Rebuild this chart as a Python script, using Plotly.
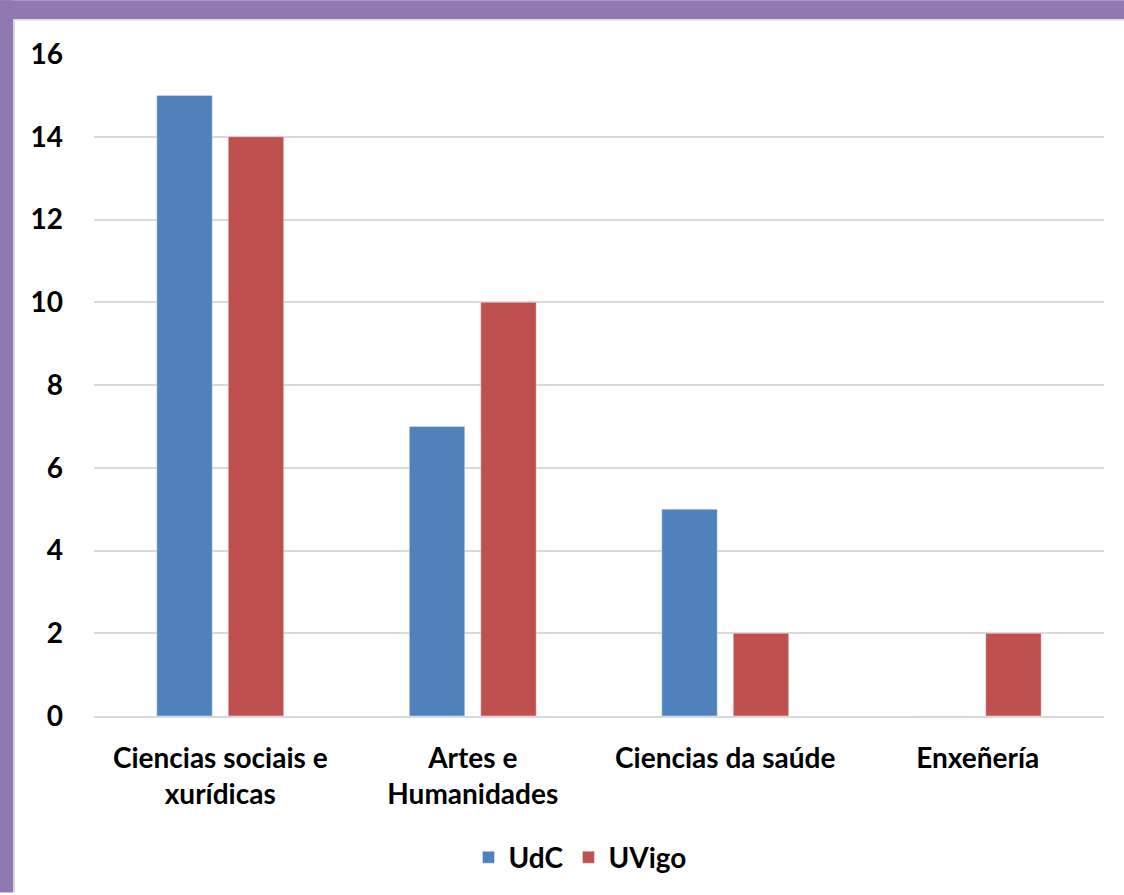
import plotly.graph_objects as go

categories = ["Ciencias sociais e<br>xurídicas", "Artes e<br>Humanidades", "Ciencias da saúde", "Enxeñería"]
udc_values = [15, 7, 5, 0]
uvigo_values = [14, 10, 2, 2]
y_ticks = [0, 2, 4, 6, 8, 10, 12, 14, 16]

W, H = 1124, 895
ML, MR, MT, MB = 94, 20, 54, 177
PW, PH = W - ML - MR, H - MT - MB

def px_x(p):
    return (p - ML) / PW

def px_y(p):
    return (H - MB - p) / PH

FONT = "Lato"
FS = 28
purple = "#9079B0"

fig = go.Figure()
fig.add_trace(go.Bar(x=categories, y=udc_values, name="UdC", marker_color="#4F81BD"))
fig.add_trace(go.Bar(x=categories, y=uvigo_values, name="UVigo", marker_color="#C0504D"))

fig.update_layout(
    width=W, height=H,
    margin=dict(l=ML, r=MR, t=MT, b=MB),
    paper_bgcolor="white", plot_bgcolor="white",
    barmode="group", bargap=0.434, bargroupgap=0.224,
    font=dict(family=FONT, size=FS, color="black", weight="bold"),
    showlegend=True,
    legend=dict(orientation="h", x=px_x(580), xanchor="center", y=px_y(860), yanchor="middle",
                font=dict(family=FONT, size=FS, weight="bold"), itemwidth=30, traceorder="normal"),
    xaxis=dict(showgrid=False, showline=True, linecolor="#D9D9D9", linewidth=2, ticks="",
               ticklabelstandoff=16,
               tickfont=dict(family=FONT, size=FS, weight="bold")),
    yaxis=dict(range=[0, 16], tickvals=y_ticks, showgrid=True, gridcolor="#D9D9D9", gridwidth=2,
               zeroline=False, showline=False, ticks="", ticklabelstandoff=30,
               tickfont=dict(family=FONT, size=FS, weight="bold")),
    shapes=[
        dict(type="rect", xref="paper", yref="paper", x0=px_x(0), x1=px_x(W), y0=px_y(19), y1=px_y(0),
             fillcolor=purple, line_width=0),
        dict(type="rect", xref="paper", yref="paper", x0=px_x(0), x1=px_x(13), y0=px_y(H), y1=px_y(0),
             fillcolor=purple, line_width=0),
        dict(type="line", xref="paper", yref="paper", x0=px_x(13), x1=px_x(W), y0=px_y(20), y1=px_y(20),
             line=dict(color="#E4E4E4", width=2)),
        dict(type="line", xref="paper", yref="paper", x0=px_x(14), x1=px_x(14), y0=px_y(H), y1=px_y(19),
             line=dict(color="#D8D8D8", width=2)),
    ],
)

fig.write_html("out.html", config={"displayModeBar": False},
               post_script="document.body.style.margin='0';document.body.style.overflow='hidden';")
